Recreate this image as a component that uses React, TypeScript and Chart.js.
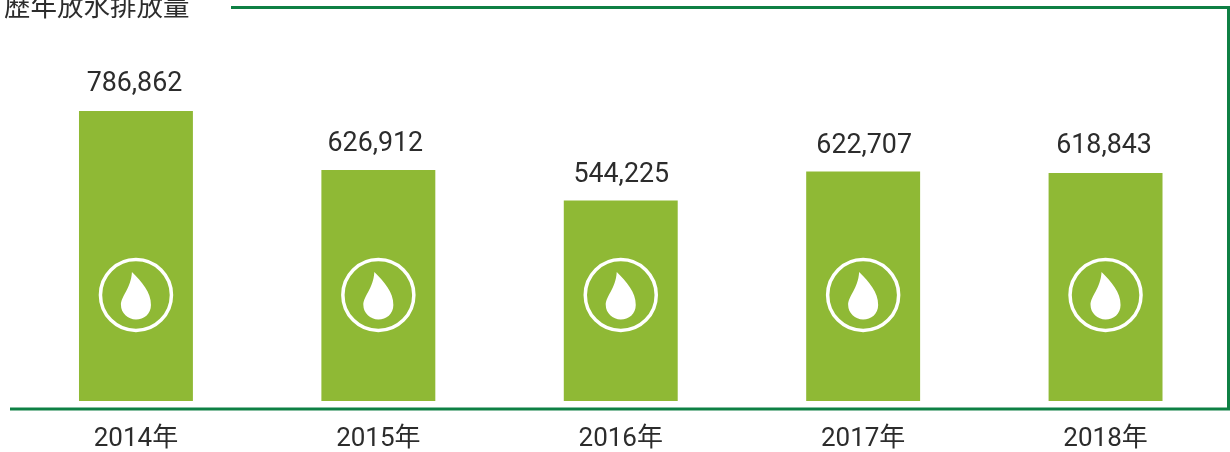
import React, { useEffect, useRef } from "react";
import { Chart, registerables, type Plugin } from "chart.js";

Chart.register(...registerables);

const categories = ["2014年", "2015年", "2016年", "2017年", "2018年"];
const values = [786862, 626912, 544225, 622707, 618843];
const chartTitle = "歷年放水排放量";

const FONT = 'Roboto, "Noto Sans CJK TC", sans-serif';
const BAR = "#8FB935";
const LINE = "#0E8044";
const TEXT = "#2C2C2C";
const LABEL_NUDGE_X = [-1.5, -3, 0.5, 1, -1.5];
const LABEL_NUDGE_Y = [-20.5, -18.5, -18.5, -18.5, -19.5];

const decor: Plugin<"bar"> = {
  id: "decor",
  afterDatasetsDraw(chart) {
    const { ctx, chartArea } = chart;
    const meta = chart.getDatasetMeta(0);
    ctx.save();
    // frame
    ctx.strokeStyle = LINE;
    ctx.lineWidth = 3;
    ctx.beginPath();
    ctx.moveTo(231, chartArea.top);
    ctx.lineTo(1228.5, chartArea.top);
    ctx.lineTo(1228.5, chartArea.bottom);
    ctx.lineTo(10, chartArea.bottom);
    ctx.stroke();
    // title
    ctx.fillStyle = TEXT;
    ctx.font = `26.5px ${FONT}`;
    ctx.textAlign = "left";
    ctx.textBaseline = "alphabetic";
    ctx.fillText(chartTitle, 4, 16);
    // value labels & icons
    meta.data.forEach((el: any, i: number) => {
      ctx.fillStyle = TEXT;
      ctx.font = `26.8px ${FONT}`;
      ctx.textAlign = "center";
      ctx.fillText(values[i].toLocaleString("en-US"), el.x + LABEL_NUDGE_X[i], el.y + LABEL_NUDGE_Y[i]);
      const cx = el.x;
      const cy = 295;
      ctx.strokeStyle = "#fff";
      ctx.lineWidth = 3.5;
      ctx.beginPath();
      ctx.arc(cx, cy, 35.5, 0, Math.PI * 2);
      ctx.stroke();
      ctx.fillStyle = "#fff";
      ctx.beginPath();
      ctx.moveTo(cx - 4, cy - 23);
      ctx.bezierCurveTo(cx + 6, cy - 13, cx + 15, cy - 3, cx + 15, cy + 10);
      ctx.bezierCurveTo(cx + 15, cy + 19, cx + 8, cy + 24.5, cx, cy + 24.5);
      ctx.bezierCurveTo(cx - 8, cy + 24.5, cx - 15, cy + 18, cx - 15, cy + 10);
      ctx.bezierCurveTo(cx - 15, cy + 1, cx - 5, cy - 6, cx - 4, cy - 23);
      ctx.closePath();
      ctx.fill();
    });
    ctx.restore();
  },
};

export default function App() {
  const ref = useRef<HTMLCanvasElement>(null);
  useEffect(() => {
    const chart = new Chart(ref.current!, {
      type: "bar",
      data: {
        labels: categories,
        datasets: [
          {
            data: values,
            backgroundColor: BAR,
            barPercentage: 0.47,
            categoryPercentage: 1,
          },
        ],
      },
      options: {
        responsive: false,
        animation: false,
        layout: { padding: { left: 14.75, right: 3.25, top: 7.5, bottom: 0 } },
        plugins: { legend: { display: false }, title: { display: false }, tooltip: { enabled: false } },
        scales: {
          x: {
            grid: { display: false },
            border: { display: false },
            ticks: { color: TEXT, font: { family: FONT, size: 26 }, padding: 7, maxRotation: 0 },
            afterFit(scale: any) {
              scale.height = 43;
            },
          },
          y: {
            display: false,
            min: -21706,
            max: 1067700,
          },
        },
      },
      plugins: [decor],
    });
    return () => chart.destroy();
  }, []);
  return (
    <canvas
      ref={ref}
      width={1230}
      height={452}
      style={{ position: "absolute", left: 0, top: 0, display: "block" }}
    />
  );
}
